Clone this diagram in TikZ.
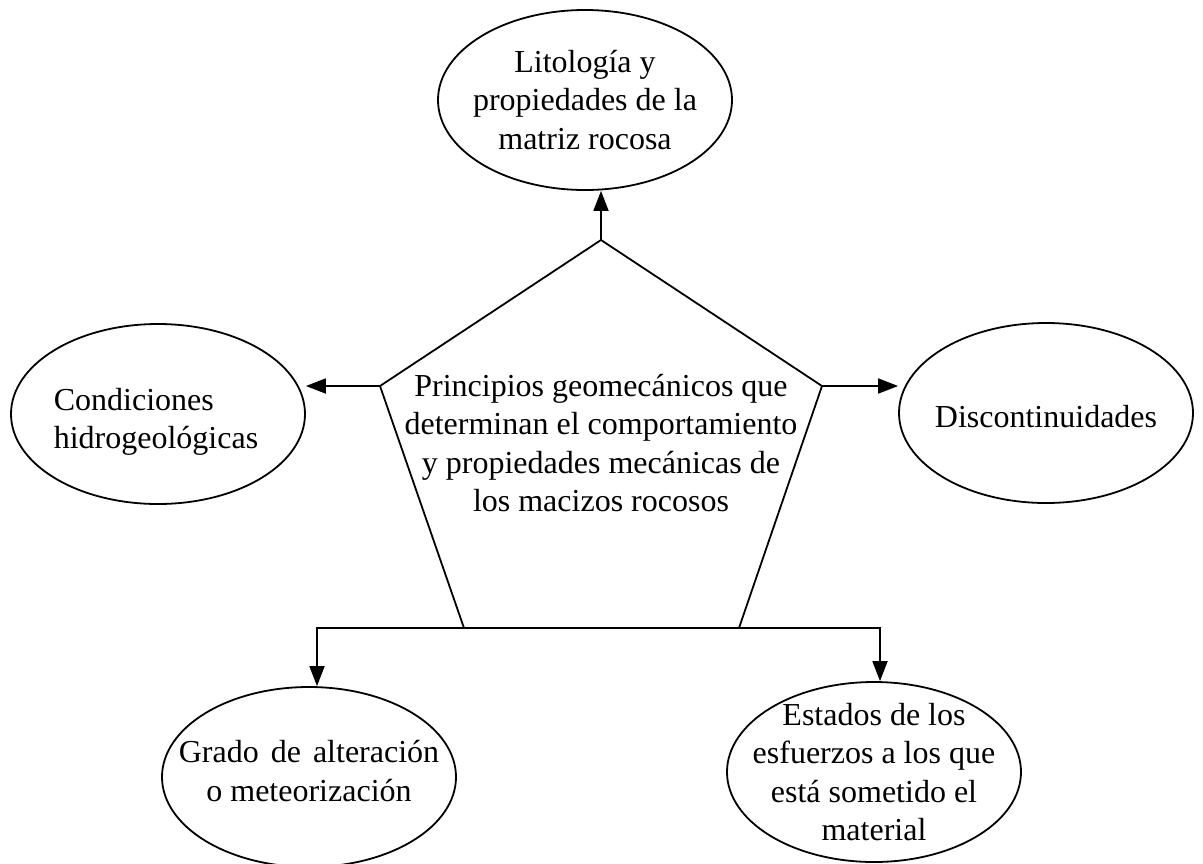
\documentclass[tikz,border=0pt]{standalone}
\usepackage{fontspec}
\setmainfont{Liberation Serif}
\usetikzlibrary{arrows.meta,positioning,shapes.geometric}
\tikzset{
  blob/.style={ellipse,draw=black,line width=1.8pt,fill=white,inner sep=0pt,
               minimum width=294pt,minimum height=180pt},
  blobtxt/.style={align=center,inner sep=0pt,font=\fontsize{32}{38.5}\selectfont},
  core/.style={align=center,inner sep=0pt,font=\fontsize{32}{38.5}\selectfont},
  edge/.style={line width=1.8pt,draw=black,line join=miter},
  fl/.style={-{Triangle[length=20pt,width=15pt]},line width=1.8pt,draw=black}
}
\begin{document}
\begin{tikzpicture}[x=1pt,y=-1pt]
  \useasboundingbox (0,0) rectangle (1203,863);
  % pentagon
  \coordinate (ptop) at (601,240);
  \coordinate (pright) at (822,386);
  \coordinate (pbr) at (739,628);
  \coordinate (pbl) at (464,628);
  \coordinate (pleft) at (380,386);
  \draw[edge] (ptop) -- (pright) -- (pbr) -- (pbl) -- (pleft) -- cycle;
  \node[core] (prin) at (601,443) {Principios geomecánicos que\\determinan el comportamiento\\y propiedades mecánicas de\\los macizos rocosos};
  % ellipses
  \node[blob,label={[blobtxt]center:{Litología y\\propiedades de la\\matriz rocosa}}] (lito) at (585,100) {};
  \node[blob,label={[blobtxt,align=left,xshift=-2pt,yshift=-8pt]center:{Condiciones\\hidrogeológicas}}] (hidro) at (158,414) {};
  \node[blob,label={[blobtxt,yshift=-4pt]center:{Discontinuidades}}] (disc) at (1046,413) {};
  \node[blob,label={[blobtxt,yshift=6pt]center:{Grado\hskip12pt de\hskip12pt alteración\\o meteorización}}] (alter) at (309,777) {};
  \node[blob,label={[blobtxt]center:{Estados de los\\esfuerzos a los que\\está sometido el\\material}}] (mat) at (874,772) {};
  % connectors
  \draw[fl] (ptop) -- (ptop |- lito.south);
  \draw[fl] (pleft) -- (pleft -| hidro.east);
  \draw[fl] (pright) -- (pright -| disc.west);
  \draw[fl] (pbl) -| ([xshift=8pt]alter.north);
  \draw[fl] (pbr) -| ([xshift=6pt]mat.north);
\end{tikzpicture}
\end{document}
